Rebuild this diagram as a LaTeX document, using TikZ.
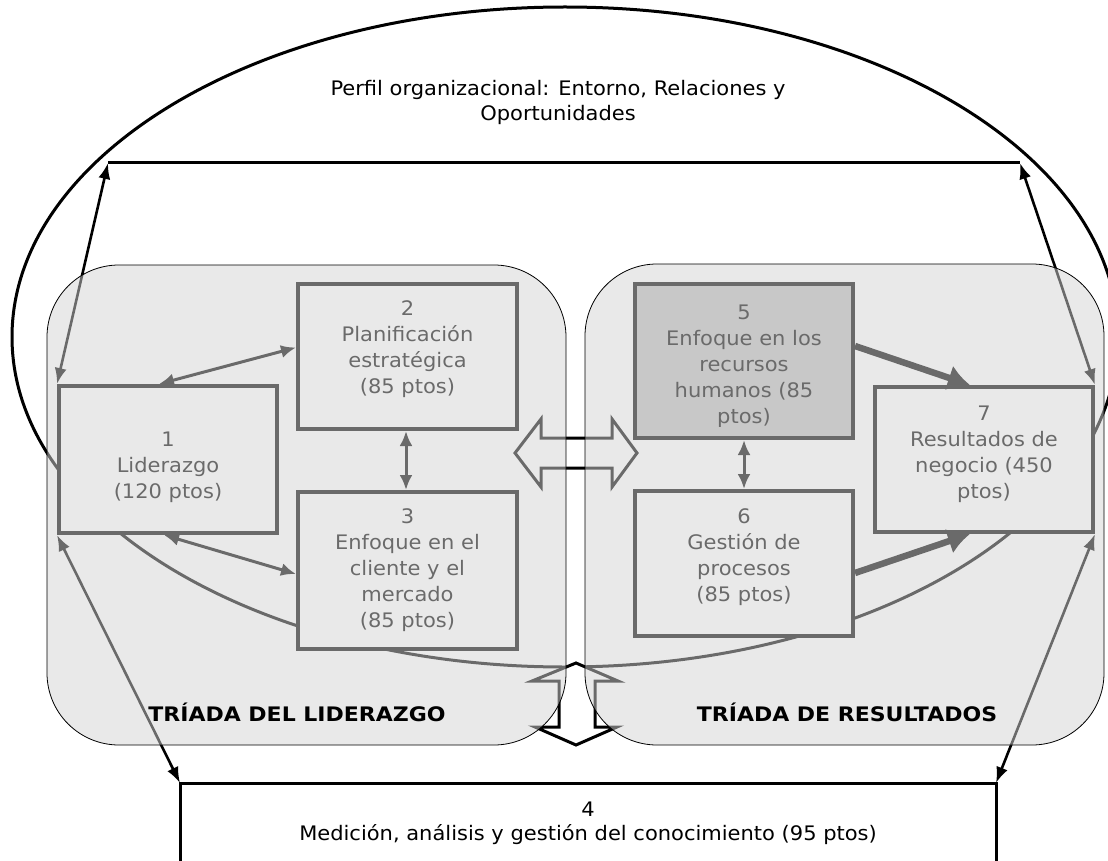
\documentclass[tikz,border=0pt]{standalone}
\usepackage{fontspec}
\setmainfont{DejaVu Sans}[FakeStretch=1.05]
\newfontfamily\widebold{DejaVu Sans Bold}[FakeStretch=1.1]
\usetikzlibrary{arrows.meta,calc}
\definecolor{triadfill}{RGB}{213,213,213}
\definecolor{hrfill}{RGB}{187,187,187}
\begin{document}
\begin{tikzpicture}[x=1pt,y=-1pt,
 box/.style={draw=black, line width=4pt, fill=white, rectangle, inner sep=0pt, outer sep=2pt},
 btext/.style={font=\fontsize{20}{26}\selectfont, align=center, inner sep=0pt, text=black},
 triad/.style={rectangle, rounded corners=72pt, draw=black, line width=0.8pt, fill=triadfill, fill opacity=0.5, draw opacity=1, inner sep=0pt},
 link/.style={line width=3pt, {Latex[length=15pt,width=13pt]}-{Latex[length=15pt,width=13pt]}},
 thickarrow/.style={line width=6.5pt, -{Latex[length=22pt,width=26pt]}},
 cornerlink/.style={line width=2.6pt, {Latex[length=16pt,width=12pt]}-{Latex[length=16pt,width=12pt]}},
 hollow/.style={draw=black, fill=white, line width=3pt, line join=miter},
 tri/.style={font=\fontsize{20}{24}\widebold, inner sep=0pt, text=black},
]
\useasboundingbox (0,0) rectangle (1108,861);
\clip (0,0) rectangle (1108,861);
\fill[white] (0,0) rectangle (1108,861);

% outer ellipse
\draw[line width=3pt] (565,337) ellipse [x radius=553, y radius=330];

% coordinates of free ends
\coordinate (topL) at (108,163);
\coordinate (topR) at (1020,163);
\coordinate (botL) at (180,783);
\coordinate (botR) at (996,783);

\draw[line width=3pt] (topL) -- (topR);

% box 4
\node[draw=black, line width=3pt, rectangle, minimum width=816pt, minimum height=160pt, inner sep=0pt] (b4) at (588,863) {};

% boxes
\node[box, minimum width=218pt, minimum height=147pt] (b1) at (168,459.5) {};
\node[box, minimum width=219pt, minimum height=145pt] (b2) at (407.5,356.5) {};
\node[box, minimum width=219pt, minimum height=157pt] (b3) at (407.5,570.5) {};
\node[box, fill=hrfill, minimum width=218pt, minimum height=154pt] (b5) at (744,361) {};
\node[box, minimum width=218pt, minimum height=145pt] (b6) at (744,563.5) {};
\node[box, minimum width=218pt, minimum height=145pt] (b7) at (984,459.5) {};

% box texts
\node[btext] (t1) at (168,467) {1\\Liderazgo\\(120 ptos)};
\node[btext] (t2) at (407.5,349) {2\\Planificación\\estratégica\\(85 ptos)};
\node[btext] (t3) at (407.5,570) {3\\Enfoque en el\\cliente y el\\mercado\\(85 ptos)};
\begin{scope}
\clip (637,286) rectangle (851,426);
\node[btext, anchor=north] (t5) at (744,305) {5\\Enfoque en los\\recursos\\humanos (85\\ptos)};
\end{scope}
\node[btext] (t6) at (744,557.5) {6\\Gestión de\\procesos\\(85 ptos)};
\node[btext] (t7) at (984,454) {7\\Resultados de\\negocio (450\\ptos)};

% links between boxes
\draw[link] ($(b1.north)+(-9,0)$) -- ($(b2.west)+(0,-9)$);
\draw[link] ($(b1.south)+(-4,0)$) -- ($(b3.west)+(0,3.5)$);
\draw[link] ($(b2.south)+(-1.5,0)$) -- ($(b3.north)+(-1.5,0)$);
\draw[link] (b5.south) -- (b6.north);
\draw[thickarrow] ($(b5.east)+(0,-15)$) -- ($(b7.north)+(-14,0)$);
\draw[thickarrow] ($(b6.east)+(0,9.5)$) -- ($(b7.south)+(-14,0)$);

% corner links
\draw[cornerlink] (b1.north west) -- (topL);
\draw[cornerlink] (b7.north east) -- (topR);
\draw[cornerlink] (b1.south west) -- (botL);
\draw[cornerlink] (b7.south east) -- (botR);

% hollow double arrows
\draw[hollow] (515,453) -- (541,419) -- (541,438) -- (612,438) -- (612,419) -- (637,453)
  -- (612,487) -- (612,468) -- (541,468) -- (541,487) -- cycle;
\draw[hollow] (576,663) -- (618,681) -- (595,681) -- (595,727) -- (617,727) -- (576,745)
  -- (535,727) -- (559,727) -- (559,681) -- (532,681) -- cycle;

% triads (translucent overlays)
\node[triad, minimum width=519pt, minimum height=480pt] (tl) at (306.5,505) {};
\node[triad, minimum width=519pt, minimum height=481pt] (tr) at (844.5,504.5) {};
\node[tri] (tll) at (297,712) {TRÍADA DEL LIDERAZGO};
\node[tri] (trl) at (847,712) {TRÍADA DE RESULTADOS};

% other texts
\node[btext, font=\fontsize{20}{25}\selectfont] (perfil) at (558,102.5) {Perfil organizacional: Entorno, Relaciones y\\Oportunidades};
\node[btext, font=\fontsize{20}{24}\selectfont] (t4) at (588,823) {4\\Medición, análisis y gestión del conocimiento (95 ptos)};
\end{tikzpicture}
\end{document}
